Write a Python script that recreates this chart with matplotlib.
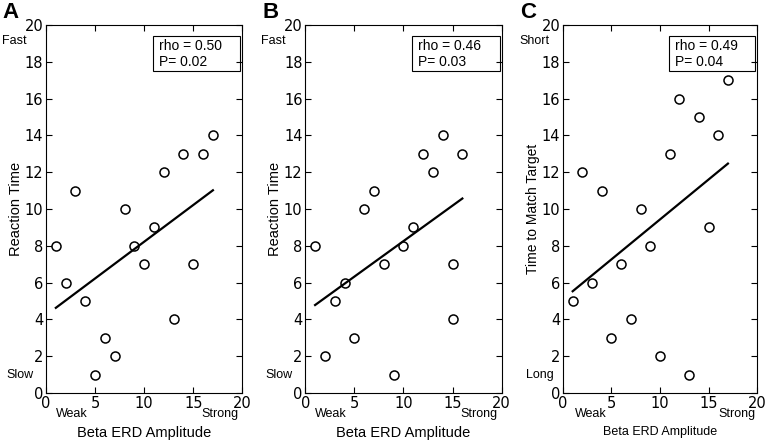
import numpy as np
import matplotlib.pyplot as plt
from matplotlib.patches import Rectangle

plt.rcParams['font.family'] = ['Liberation Sans', 'DejaVu Sans']

# panel A
xa = [1, 2, 3, 4, 5, 6, 7, 8, 9, 10, 11, 12, 13, 14, 15, 16, 17]
ya = [8, 6, 11, 5, 1, 3, 2, 10, 8, 7, 9, 12, 4, 13, 7, 13, 14]
# panel B
xb = [1, 2, 3, 4, 5, 6, 7, 8, 9, 10, 11, 12, 13, 14, 15, 15, 16]
yb = [8, 2, 5, 6, 3, 10, 11, 7, 1, 8, 9, 13, 12, 14, 7, 4, 13]
# panel C
xc = [1, 2, 3, 4, 5, 6, 7, 8, 9, 10, 11, 12, 13, 14, 15, 16, 17]
yc = [5, 12, 6, 11, 3, 7, 4, 10, 8, 2, 13, 16, 1, 15, 9, 14, 17]

panels = [
    ('A', xa, ya, 'Reaction Time', 'Fast', 'Slow', 'rho = 0.50\nP= 0.02'),
    ('B', xb, yb, 'Reaction Time', 'Fast', 'Slow', 'rho = 0.46\nP= 0.03'),
    ('C', xc, yc, 'Time to Match Target', 'Short', 'Long', 'rho = 0.49\nP= 0.04'),
]
boxes = [[0.060, 0.109, 0.256, 0.834],
         [0.398, 0.109, 0.256, 0.834],
         [0.734, 0.109, 0.253, 0.834]]

fig = plt.figure(figsize=(7.67, 4.41), dpi=100)

for (letter, x, y, ylab, top, bot, stat), pos in zip(panels, boxes):
    ax = fig.add_axes(pos)
    x = np.array(x)
    y = np.array(y)
    ax.plot(x, y, 'o', mfc='white', mec='black', ms=6.5, mew=1.1)
    # least squares fit drawn over the data range
    k, b = np.polyfit(x, y, 1)
    xs = np.array([x.min(), x.max()])
    ax.plot(xs, k * xs + b, color='black', lw=1.6)
    ax.set_xlim(0, 20)
    ax.set_ylim(0, 20)
    ax.set_xticks([0, 5, 10, 15, 20])
    ax.set_yticks(range(0, 21, 2))
    ax.tick_params(direction='in', top=True, right=True, length=4, pad=2)
    for lab in ax.get_xticklabels() + ax.get_yticklabels():
        lab.set_fontfamily('DejaVu Sans')
        lab.set_fontsize(10.5)
    small = letter == 'C'
    ax.set_ylabel(ylab, fontsize=10 if small else 10.5, labelpad=1)
    ax.set_xlabel('Beta ERD Amplitude', fontsize=9 if small else 10.5, labelpad=11)
    ax.text(-0.10 if not small else -0.07, 0.957, top, transform=ax.transAxes,
            ha='right', va='center', fontsize=9)
    ax.text(-0.065 if not small else -0.045, 0.05, bot, transform=ax.transAxes,
            ha='right', va='center', fontsize=9)
    ax.text(0.13 if not small else 0.145, -0.057, 'Weak', transform=ax.transAxes,
            ha='center', va='center', fontsize=9)
    ax.text(0.885 if not small else 0.895, -0.057, 'Strong', transform=ax.transAxes,
            ha='center', va='center', fontsize=9)
    ax.add_patch(Rectangle((0.545, 0.875), 0.445, 0.095, transform=ax.transAxes,
                           fill=False, ec='black', lw=0.8))
    ax.text(0.575, 0.922, stat, transform=ax.transAxes, ha='left', va='center',
            fontsize=10, linespacing=1.15)
    ax.text(-0.22, 1.035, letter, transform=ax.transAxes, ha='left', va='center',
            fontsize=16, fontweight='bold')

fig.savefig('out.png', dpi=100)
